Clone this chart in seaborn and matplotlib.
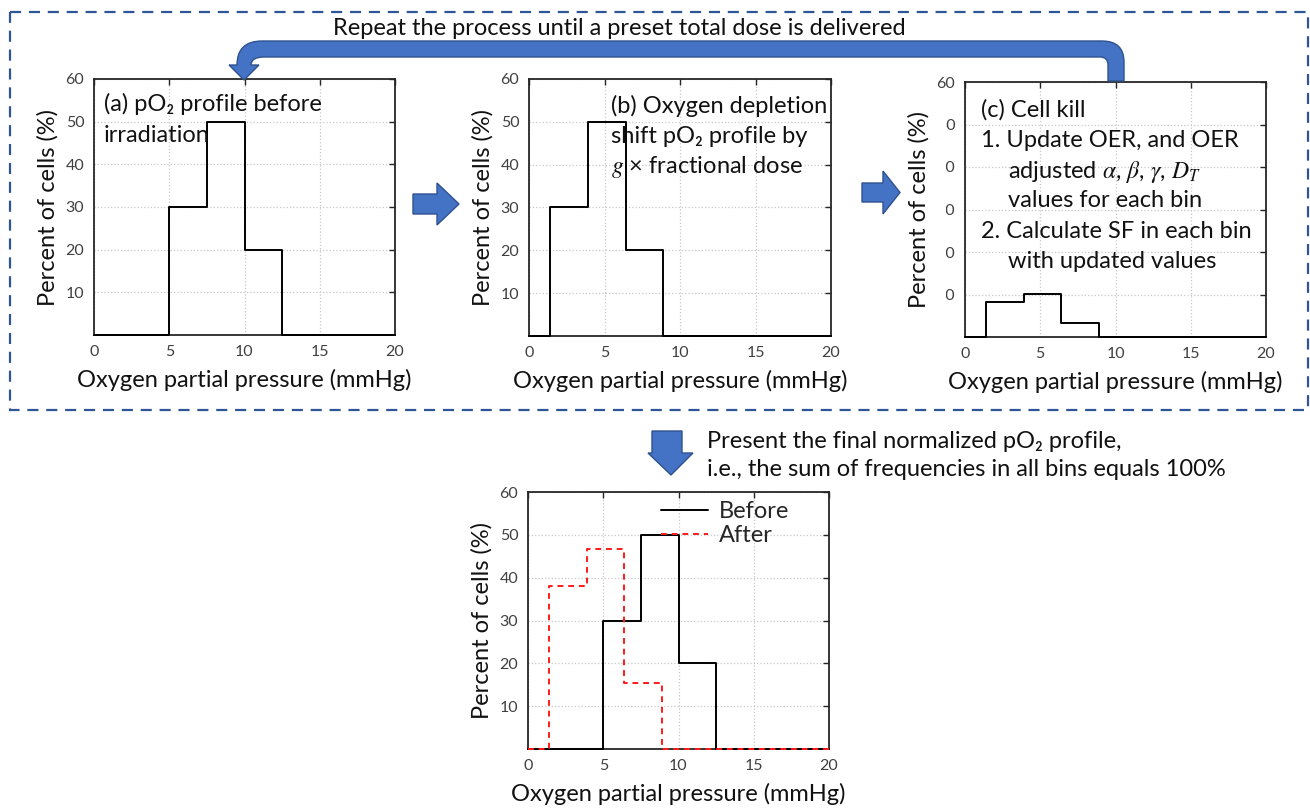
import numpy as np
import pandas as pd
import matplotlib
matplotlib.use("Agg")
import matplotlib.pyplot as plt
from matplotlib.path import Path
from matplotlib.patches import PathPatch, Polygon, Rectangle
import seaborn as sns

# pO2 histogram data (bin edges in mmHg, percent of cells per bin)
EDGES_BEFORE = [5.0, 7.5, 10.0, 12.5]
PCT_BEFORE = [30, 50, 20]
EDGES_SHIFTED = [1.4, 3.9, 6.4, 8.9]
PCT_SHIFTED = [30, 50, 20]
PCT_SURVIVING = [8.2, 10.1, 3.3]
PCT_AFTER = [38.0, 46.6, 15.3]

X_TICKS = [0, 5, 10, 15, 20]
Y_TICKS = [10, 20, 30, 40, 50, 60]

XLABEL = "Oxygen partial pressure (mmHg)"
YLABEL = "Percent of cells (%)"

W, H = 1310, 809
BLUE = "#4472C4"
BLUE_EDGE = "#2F528F"
FS = 17

sns.set_theme(style="white")
plt.rcParams["font.family"] = ["Lato", "DejaVu Sans"]
plt.rcParams["mathtext.fontset"] = "stix"


def step_frame(edges, pct):
    x = [0.0] + list(edges) + [20.0]
    y = [0.0] + list(pct) + [0.0, 0.0]
    return pd.DataFrame({"p": x, "pct": y})


def style_axes(ax):
    ax.set_xlim(0, 20)
    ax.set_ylim(0, 60)
    ax.set_xticks(X_TICKS)
    ax.set_yticks(Y_TICKS)
    ax.tick_params(direction="in", top=True, right=True, length=4, width=1,
                   color="#262626", labelcolor="#404040", labelsize=11.5, pad=7)
    ax.grid(True, linestyle=":", color="#c8c8c8", linewidth=0.9)
    for sp in ax.spines.values():
        sp.set_linewidth(1.3)
        sp.set_color("#262626")
    ax.set_xlabel(XLABEL, fontsize=FS, labelpad=7, color="#111111")
    ax.set_ylabel(YLABEL, fontsize=FS, labelpad=5, color="#111111")


def px_axes(fig, left, top, right, bottom):
    return fig.add_axes([left / W, 1 - bottom / H, (right - left) / W, (bottom - top) / H])


fig = plt.figure(figsize=(W / 100, H / 100), dpi=100)

ax_a = px_axes(fig, 94, 79, 395, 335)
ax_b = px_axes(fig, 529, 79, 831, 336)
ax_c = px_axes(fig, 965, 82, 1266, 337)
ax_d = px_axes(fig, 528, 492, 829, 749)

line_kw = dict(color="black", linewidth=1.4, drawstyle="steps-post", clip_on=False, zorder=3)
sns.lineplot(data=step_frame(EDGES_BEFORE, PCT_BEFORE), x="p", y="pct", ax=ax_a, **line_kw)
sns.lineplot(data=step_frame(EDGES_SHIFTED, PCT_SHIFTED), x="p", y="pct", ax=ax_b, **line_kw)
sns.lineplot(data=step_frame(EDGES_SHIFTED, PCT_SURVIVING), x="p", y="pct", ax=ax_c, **line_kw)
sns.lineplot(data=step_frame(EDGES_BEFORE, PCT_BEFORE), x="p", y="pct", ax=ax_d,
             label="Before", **line_kw)
sns.lineplot(data=step_frame(EDGES_SHIFTED, PCT_AFTER), x="p", y="pct", ax=ax_d,
             label="After", color="#ff1a1a", linewidth=1.4, linestyle=(0, (3, 2.5)),
             drawstyle="steps-post", clip_on=False, zorder=4)

for ax in (ax_a, ax_b, ax_c, ax_d):
    style_axes(ax)

ax_d.legend(loc="upper left", bbox_to_anchor=(0.41, 1.0), frameon=False, fontsize=FS,
            handlelength=2.0, handletextpad=0.45, labelspacing=0.12, borderaxespad=0)

# overlay in pixel coordinates for the flow-chart decorations and panel notes
ov = fig.add_axes([0, 0, 1, 1], zorder=10)
ov.set_xlim(0, W)
ov.set_ylim(H, 0)
ov.axis("off")
ov.patch.set_alpha(0)


def note(x, y, s):
    ov.text(x, y, s, fontsize=FS, ha="left", va="baseline", color="#111111")


note(104, 111, "(a) pO\u2082 profile before")
note(104, 142, "irradiation")
note(611, 113, "(b) Oxygen depletion")
note(611, 143, "shift pO\u2082 profile by")
note(611, 173, "$g$ \u00d7 fractional dose")
note(981, 117, "(c) Cell kill")
note(981, 147, "1. Update OER, and OER")
note(1008, 178, "adjusted $\\alpha$, $\\beta$, $\\gamma$, $D_T$")
note(1008, 207, "values for each bin")
note(981, 238, "2. Calculate SF in each bin")
note(1008, 268, "with updated values")

ov.add_patch(Rectangle((10, 12), 1298, 398, fill=False, edgecolor="#2F5597",
                       linewidth=1.6, linestyle=(0, (5, 3.5))))

# hide the first digit of panel (c) tick labels, as in the original
ov.add_patch(Rectangle((930, 92), 16, 240, facecolor="white", edgecolor="none"))

C3 = Path.CURVE3
verts = [(1124, 81), (1124, 62), (1124, 41), (1102, 41), (262, 41), (237, 41), (237, 65),
         (229, 65), (244, 80), (259, 65), (251, 65), (251, 57), (264, 57), (1100, 57),
         (1108, 57), (1108, 65), (1108, 81), (1124, 81)]
codes = [Path.MOVETO, Path.LINETO, C3, C3, Path.LINETO, C3, C3, Path.LINETO, Path.LINETO,
         Path.LINETO, Path.LINETO, C3, C3, Path.LINETO, C3, C3, Path.LINETO, Path.CLOSEPOLY]
ov.add_patch(PathPatch(Path(verts, codes), facecolor=BLUE, edgecolor=BLUE_EDGE, linewidth=1))


def block_arrow(x0, yc, body_len, body_h, head_len, head_h):
    pts = [(x0, yc - body_h / 2), (x0 + body_len, yc - body_h / 2), (x0 + body_len, yc - head_h / 2),
           (x0 + body_len + head_len, yc), (x0 + body_len, yc + head_h / 2),
           (x0 + body_len, yc + body_h / 2), (x0, yc + body_h / 2)]
    return pts


ov.add_patch(Polygon(block_arrow(413, 204, 24, 20, 22, 42), facecolor=BLUE, edgecolor=BLUE_EDGE, lw=1))
ov.add_patch(Polygon(block_arrow(862, 192.5, 21, 19, 17, 43), facecolor=BLUE, edgecolor=BLUE_EDGE, lw=1))
down = [(652, 431), (682, 431), (682, 453), (693, 453), (671, 475), (648, 453), (652, 453)]
ov.add_patch(Polygon(down, facecolor=BLUE, edgecolor=BLUE_EDGE, lw=1))

ov.text(619, 28, "Repeat the process until a preset total dose is delivered", fontsize=FS,
        ha="center", va="center", color="#111111")
ov.text(707, 441, "Present the final normalized pO\u2082 profile,", fontsize=FS, ha="left",
        va="center", color="#111111")
ov.text(707, 469, "i.e., the sum of frequencies in all bins equals 100%", fontsize=FS,
        ha="left", va="center", color="#111111")

fig.savefig("out.png", dpi=100)
